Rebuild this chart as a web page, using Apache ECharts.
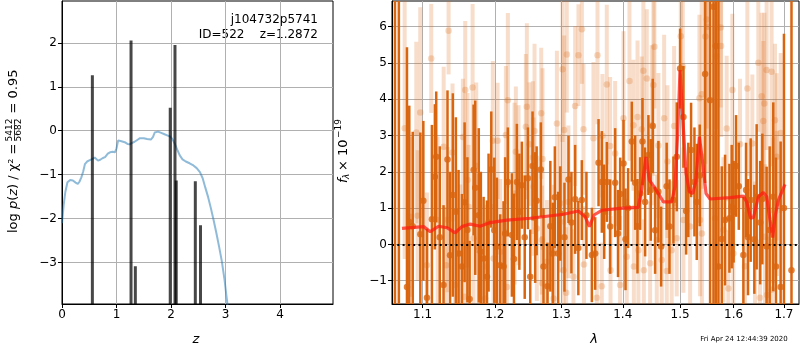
<!DOCTYPE html>
<html><head><meta charset="utf-8">
<script src="https://cdn.jsdelivr.net/npm/echarts@6/dist/echarts.min.js"></script>
<style>html,body{margin:0;padding:0;background:#fff}#c{width:800px;height:350px}</style>
</head><body><div id="c"></div>
<script>
// ---------- left panel: log p(z) ----------
const pzZ = [0.0, 0.03, 0.06, 0.1, 0.15, 0.2, 0.25, 0.29, 0.32, 0.355, 0.39, 0.42, 0.46, 0.51, 0.56, 0.6, 0.63, 0.66, 0.7, 0.75, 0.79, 0.84, 0.88, 0.93, 0.97, 1.0, 1.03, 1.09, 1.15, 1.2, 1.24, 1.28, 1.33, 1.38, 1.43, 1.5, 1.56, 1.63, 1.67, 1.7, 1.76, 1.82, 1.88, 1.94, 1.98, 2.02, 2.07, 2.12, 2.16, 2.21, 2.27, 2.34, 2.41, 2.47, 2.53, 2.58, 2.63, 2.68, 2.73, 2.78, 2.83, 2.88, 2.93, 2.98, 3.02, 3.06];
const pzLog = [-2.10, -1.70, -1.40, -1.17, -1.12, -1.13, -1.18, -1.21, -1.16, -1.06, -0.92, -0.76, -0.70, -0.67, -0.64, -0.61, -0.63, -0.68, -0.66, -0.62, -0.60, -0.52, -0.49, -0.48, -0.49, -0.40, -0.22, -0.24, -0.26, -0.30, -0.31, -0.28, -0.25, -0.21, -0.17, -0.17, -0.19, -0.20, -0.14, -0.04, -0.02, -0.05, -0.08, -0.11, -0.13, -0.18, -0.30, -0.45, -0.56, -0.65, -0.70, -0.74, -0.79, -0.85, -0.94, -1.08, -1.30, -1.51, -1.76, -2.03, -2.32, -2.63, -2.96, -3.38, -3.80, -4.20];
const spikeZ = [0.557, 1.266, 1.345, 1.985, 2.072, 2.095, 2.445, 2.54];
const spikePeak = [1.26, 2.05, -3.08, 0.52, 1.95, -1.13, -1.15, -2.15];
const zTicks = [0, 1, 2, 3, 4];
const logpTicks = [-3, -2, -1, 0, 1, 2];

// ---------- right panel: spectrum ----------
const lamTicks = [1.1, 1.2, 1.3, 1.4, 1.5, 1.6, 1.7];
const fluxTicks = [-1, 0, 1, 2, 3, 4, 5, 6];
const modelLam = [1.0730, 1.1014, 1.1102, 1.1214, 1.1327, 1.1441, 1.1533, 1.1650, 1.1791, 1.1934, 1.2176, 1.2523, 1.3035, 1.3272, 1.3379, 1.3449, 1.3524, 1.3649, 1.3952, 1.4263, 1.4321, 1.4397, 1.4455, 1.4537, 1.4613, 1.4701, 1.4849, 1.4909, 1.4957, 1.5000, 1.5048, 1.5109, 1.5170, 1.5231, 1.5286, 1.5354, 1.5409, 1.5477, 1.5552, 1.5931, 1.6189, 1.6254, 1.6332, 1.6385, 1.6484, 1.6583, 1.6650, 1.6717, 1.6771, 1.6818, 1.6886, 1.7022];
const modelFlux = [0.44, 0.49, 0.35, 0.50, 0.46, 0.32, 0.49, 0.56, 0.50, 0.60, 0.67, 0.72, 0.83, 0.92, 0.76, 0.49, 0.81, 0.94, 0.99, 1.02, 1.50, 2.41, 1.77, 1.59, 1.40, 1.17, 1.17, 1.59, 3.06, 4.80, 3.51, 1.95, 1.45, 1.40, 1.72, 2.96, 2.32, 1.40, 1.25, 1.29, 1.33, 1.17, 0.72, 0.74, 1.31, 1.43, 1.31, 0.67, 0.19, 0.76, 1.22, 1.65];
// [lambda, flux, error]
const darkPoints = [
 [1.0640, 7.5, 12], [1.0690, -2.5, 12],
 [1.0795, -1.17, 6.6], [1.0825, 0.62, 3.2], [1.0870, 0.50, 2.6], [1.0970, 0.28, 2.8], [1.1010, 1.20, 2.2],
 [1.1058, -1.47, 1.9], [1.1124, 0.69, 2.6], [1.1164, 1.86, 2.0], [1.1182, 2.41, 1.8], [1.1230, 0.20, 2.5],
 [1.1281, -1.12, 2.2], [1.1335, 2.34, 1.9], [1.1370, -0.30, 2.3], [1.1408, 1.36, 2.8], [1.1450, 0.90, 2.6],
 [1.1487, -0.25, 2.3], [1.1534, -0.61, 2.0], [1.1571, 1.16, 2.2], [1.1610, 0.40, 2.0], [1.1641, -1.50, 1.6],
 [1.1697, 2.05, 1.8], [1.1720, 1.56, 2.4], [1.1770, 0.80, 2.4], [1.1800, -0.20, 2.2], [1.1839, -0.39, 1.7],
 [1.1887, -0.89, 2.1], [1.1910, 0.60, 1.9], [1.1949, 2.06, 1.6], [1.1992, 0.39, 2.0], [1.2030, -0.06, 1.9],
 [1.2078, -0.57, 1.4], [1.2127, -0.61, 1.8], [1.2150, 0.30, 2.1], [1.2190, 1.72, 1.5], [1.2249, 0.26, 1.7],
 [1.2280, -0.40, 1.8], [1.2323, 1.72, 1.6], [1.2360, 0.90, 1.6], [1.2397, 1.63, 1.2], [1.2440, 0.20, 1.7],
 [1.2488, 1.82, 1.4], [1.2523, -0.89, 1.3], [1.2558, 2.16, 1.5], [1.2598, 0.74, 1.8], [1.2620, 1.20, 1.5],
 [1.2684, 2.06, 1.3], [1.2725, -0.61, 1.6], [1.2786, -1.15, 1.2], [1.2830, 0.50, 1.8], [1.2868, -0.25, 1.4],
 [1.2900, 1.30, 1.4], [1.2951, -0.25, 1.7], [1.2983, 0.85, 1.3], [1.3050, 0.20, 1.5], [1.3114, 1.79, 1.2],
 [1.3160, 0.60, 1.4], [1.3219, 1.24, 1.5], [1.3270, -0.10, 1.3], [1.3326, 1.22, 1.1], [1.3400, 0.80, 1.2],
 [1.3488, -0.29, 1.3], [1.3542, -0.25, 1.0], [1.3597, 2.25, 1.2], [1.3651, 1.72, 1.4], [1.3690, 0.90, 1.3],
 [1.3734, 1.72, 1.1], [1.3789, 0.49, 1.3], [1.3872, 1.70, 1.5], [1.3920, 0.30, 1.2], [1.3956, 1.39, 1.0],
 [1.4012, 2.23, 1.2], [1.4046, 0.14, 1.4], [1.4090, 1.00, 1.1], [1.4153, 2.83, 1.1], [1.4210, 1.70, 1.3],
 [1.4250, 0.50, 1.3], [1.4296, 1.40, 1.0], [1.4336, 2.83, 1.2], [1.4382, 1.17, 1.5], [1.4439, 2.46, 1.1],
 [1.4480, 1.50, 1.4], [1.4515, 3.26, 1.3], [1.4556, 0.39, 1.2], [1.4614, 1.45, 1.4], [1.4662, -0.06, 1.1],
 [1.4760, 1.60, 1.2], [1.4810, 0.49, 1.3], [1.4881, 1.22, 1.2], [1.4941, 2.41, 1.5], [1.5001, 4.84, 1.1],
 [1.5061, 3.51, 1.4], [1.5110, 0.92, 1.2], [1.5150, 1.50, 1.3], [1.5201, 2.60, 1.3], [1.5262, 1.72, 1.5],
 [1.5305, 1.17, 1.6], [1.5360, 1.90, 1.4], [1.5460, 4.69, 3.0],
 [1.5553, 3.97, 12], [1.5616, 6.54, 12], [1.5660, 5.46, 12], [1.5710, -0.61, 8], [1.5773, 0.15, 2.0],
 [1.5836, 0.67, 1.8], [1.5919, 0.72, 1.5], [1.5963, 1.04, 1.7], [1.6000, 0.90, 1.4], [1.6047, 2.16, 1.4],
 [1.6100, 1.60, 1.2], [1.6189, -0.29, 1.6], [1.6241, 1.50, 1.3], [1.6280, 0.20, 1.6], [1.6332, 1.22, 1.7],
 [1.6404, 0.14, 1.5], [1.6450, 1.31, 2.0], [1.6520, 0.60, 1.7], [1.6563, 1.25, 1.8], [1.6649, -0.06, 2.2],
 [1.6710, 0.40, 2.3], [1.6783, 1.31, 2.6], [1.6837, -0.61, 3.0], [1.6932, -1.17, 4.0], [1.7000, 1.0, 4.8],
 [1.7155, -0.71, 12]
];
const lightPoints = [
 [1.0765, 3.2, 3.6], [1.0839, 0.76, 2.2], [1.0917, 3.08, 2.5], [1.0934, 0.79, 1.8], [1.0969, 3.63, 2.9],
 [1.1057, -0.57, 2.0], [1.1115, 5.12, 1.5], [1.1201, 0.67, 2.3], [1.1283, 2.69, 2.2], [1.1318, -0.57, 1.6],
 [1.1336, 0.68, 2.0], [1.1350, 5.88, 1.2], [1.1404, 2.53, 1.9], [1.1440, -1.12, 1.4], [1.1510, -0.25, 1.9],
 [1.1547, 2.96, 1.6], [1.1566, -1.44, 1.5], [1.1580, 4.25, 1.9], [1.1612, 1.77, 2.4], [1.1626, 1.04, 1.7],
 [1.1683, 4.32, 2.3], [1.1697, 0.17, 1.8], [1.1734, 2.16, 2.3], [1.1767, -0.16, 2.1], [1.1862, -1.49, 1.2],
 [1.1876, -0.61, 1.7], [1.1971, 2.85, 2.2], [1.1981, -0.39, 1.5], [1.2040, 2.85, 1.6], [1.2078, -0.20, 2.0],
 [1.2161, 3.01, 1.9], [1.2176, -1.17, 1.6], [1.2190, 3.97, 2.4], [1.2289, 1.40, 2.5], [1.2308, 2.55, 1.8],
 [1.2348, 1.63, 2.2], [1.2457, 3.24, 2.0], [1.2472, 3.79, 2.3], [1.2512, 2.76, 1.7], [1.2563, 2.39, 2.1],
 [1.2573, 1.59, 1.9], [1.2588, 3.12, 2.4], [1.2623, 0.44, 2.0], [1.2690, 3.61, 1.8], [1.2700, 0.12, 1.5],
 [1.2705, -1.07, 1.3], [1.2710, 2.35, 2.5], [1.2777, -0.48, 1.7], [1.2879, -1.49, 1.6], [1.2885, -0.16, 1.8],
 [1.2932, 3.33, 2.0], [1.2983, 1.13, 1.9], [1.3020, 4.82, 2.0], [1.3035, -0.71, 1.4], [1.3045, 3.15, 2.6],
 [1.3077, -1.33, 1.8], [1.3087, 5.23, 1.6], [1.3113, 1.17, 2.1], [1.3193, -0.89, 1.3], [1.3219, 3.81, 2.2],
 [1.3272, 5.21, 1.4], [1.3327, 5.92, 1.5], [1.3353, 3.17, 1.8], [1.3360, -0.55, 1.6], [1.3514, 2.92, 2.1],
 [1.3569, -1.47, 1.5], [1.3580, 5.21, 1.9], [1.3650, -1.15, 1.2], [1.3661, 2.99, 1.7], [1.3733, 4.40, 2.2],
 [1.3788, 2.71, 1.9], [1.3795, -0.71, 1.5], [1.3872, 2.50, 2.0], [1.3955, -1.12, 1.9], [1.4012, 3.47, 2.4],
 [1.4067, -0.34, 1.6], [1.4113, 4.50, 2.2], [1.4181, 3.28, 1.8], [1.4188, -0.61, 1.7], [1.4251, 3.51, 2.1],
 [1.4266, -0.16, 1.8], [1.4324, 3.17, 2.0], [1.4352, 4.78, 2.4], [1.4360, -0.71, 1.4], [1.4411, 4.57, 1.9],
 [1.4469, -0.52, 1.7], [1.4497, 3.28, 2.2], [1.4526, 4.39, 2.5], [1.4544, 5.44, 1.7], [1.4585, 0.12, 1.8],
 [1.4614, 2.72, 2.0], [1.4673, -0.43, 1.6], [1.4715, 3.47, 2.3], [1.4762, -0.73, 1.7], [1.4774, 2.28, 2.1],
 [1.4850, -0.16, 1.9], [1.4893, 3.26, 2.2], [1.4940, 0.17, 1.6], [1.5013, 5.73, 1.7], [1.5049, 4.89, 1.9],
 [1.5061, 0.67, 2.0], [1.5183, 0.49, 2.2], [1.5354, 4.02, 2.3], [1.5366, 0.67, 2.1], [1.5397, 4.13, 2.6],
 [1.5400, 0.30, 2.2], [1.5466, 5.72, 3.5], [1.5490, 6.19, 3.0], [1.5509, 5.99, 4.0], [1.5646, 0.72, 2.4],
 [1.5665, 5.18, 2.0], [1.5754, 5.97, 2.2], [1.5760, 5.46, 2.5], [1.5804, 0.40, 2.0], [1.5867, 3.19, 2.0],
 [1.5899, -1.21, 1.6], [1.5976, 4.25, 2.1], [1.5995, -0.25, 1.8], [1.6124, 2.76, 1.8], [1.6221, -0.60, 1.5],
 [1.6267, 4.29, 2.4], [1.6365, 2.78, 1.9], [1.6417, 0.03, 1.7], [1.6483, 5.00, 1.9], [1.6516, -1.47, 1.6],
 [1.6550, 4.08, 2.3], [1.6583, 3.40, 2.2], [1.6603, 3.88, 2.5], [1.6616, 0.21, 2.0], [1.6649, 4.80, 2.2],
 [1.6655, -1.39, 1.6], [1.6749, 4.75, 2.6], [1.6755, -1.25, 1.4], [1.6784, 0.94, 2.0], [1.6817, 3.42, 2.1],
 [1.6850, 2.41, 2.3], [1.6855, 1.13, 2.0], [1.6933, 3.07, 2.2]
];

const FONT = 'DejaVu Sans';
const ORANGE = '#d9650f';
const minusFmt = v => String(v).replace('-', '\u2212');

function axisStyle(ticks, fmt) {
  return {
    axisLine: {show: true, onZero: false, lineStyle: {color: '#000', width: 1}},
    axisTick: {show: true, inside: false, length: 4, customValues: ticks, lineStyle: {color: '#000', width: 1}},
    axisLabel: {customValues: ticks, color: '#000', fontSize: 12, fontFamily: FONT, margin: 5, formatter: fmt},
    splitLine: {show: true, lineStyle: {color: '#b0b0b0', width: 1}}
  };
}

function errSeries(points, color, width, z) {
  return {
    type: 'custom', xAxisIndex: 1, yAxisIndex: 1, clip: true, silent: true, z: z,
    data: points, encode: {x: 0, y: 1},
    renderItem: (params, api) => {
      const x = api.value(0), y = api.value(1), e = api.value(2);
      const a = api.coord([x, y - e]), b = api.coord([x, y + e]);
      return {type: 'line', shape: {x1: a[0], y1: a[1], x2: b[0], y2: b[1]},
              style: {stroke: color, lineWidth: width}};
    }
  };
}

const chart = echarts.init(document.getElementById('c'), null, {renderer: 'canvas'});
chart.setOption({
  animation: false,
  textStyle: {fontFamily: FONT},
  grid: [
    {left: 62, top: 1, width: 271, height: 303, show: true, borderColor: '#000', borderWidth: 1, backgroundColor: 'transparent'},
    {left: 392, top: 1, width: 407, height: 303, show: true, borderColor: '#000', borderWidth: 1, backgroundColor: 'transparent'}
  ],
  xAxis: [
    Object.assign({type: 'value', gridIndex: 0, min: 0, max: 4.97}, axisStyle(zTicks, minusFmt)),
    Object.assign({type: 'log', logBase: 10, gridIndex: 1, min: 1.0602, max: 1.7311}, axisStyle(lamTicks, v => Number(v).toFixed(1)))
  ],
  yAxis: [
    Object.assign({type: 'value', gridIndex: 0, min: -3.94, max: 2.95}, axisStyle(logpTicks, minusFmt)),
    Object.assign({type: 'value', gridIndex: 1, min: -1.64, max: 6.70}, axisStyle(fluxTicks, minusFmt))
  ],
  series: [
    {
      type: 'line', xAxisIndex: 0, yAxisIndex: 0, showSymbol: false, clip: true, silent: true, z: 2,
      data: pzZ.map((z, i) => [z, pzLog[i]]),
      lineStyle: {color: 'rgba(31,119,180,0.5)', width: 2}
    },
    {
      type: 'custom', xAxisIndex: 0, yAxisIndex: 0, clip: true, silent: true, z: 3,
      data: spikeZ.map((z, i) => [z, spikePeak[i]]), encode: {x: 0, y: 1},
      renderItem: (params, api) => {
        const a = api.coord([api.value(0), api.value(1)]);
        const b = api.coord([api.value(0), -10]);
        return {type: 'line', shape: {x1: a[0], y1: a[1], x2: b[0], y2: b[1]},
                style: {stroke: 'rgba(0,0,0,0.72)', lineWidth: 3}};
      }
    },
    errSeries(lightPoints, 'rgba(217,101,15,0.22)', 4, 2),
    {
      type: 'scatter', xAxisIndex: 1, yAxisIndex: 1, silent: true, z: 3, symbolSize: 6.5,
      data: lightPoints.map(p => [p[0], p[1]]),
      itemStyle: {color: 'rgba(217,101,15,0.3)'}
    },
    errSeries(darkPoints, ORANGE, 2.5, 4),
    {
      type: 'scatter', xAxisIndex: 1, yAxisIndex: 1, silent: true, z: 5, symbolSize: 6.5,
      data: darkPoints.map(p => [p[0], p[1]]),
      itemStyle: {color: ORANGE}
    },
    {
      type: 'line', xAxisIndex: 1, yAxisIndex: 1, showSymbol: false, clip: true, silent: true, z: 6,
      data: modelLam.map((l, i) => [l, modelFlux[i]]),
      lineStyle: {color: 'rgba(255,25,15,0.72)', width: 3.2},
      markLine: {
        silent: true, symbol: ['none', 'none'], label: {show: false},
        lineStyle: {color: '#000', width: 2, type: [2, 3.3]},
        data: [{yAxis: 0}]
      }
    }
  ],
  graphic: [
    {type: 'text', x: 318, y: 19.5, style: {text: 'j104732p5741', font: '12px "DejaVu Sans"', fill: '#000', align: 'right', verticalAlign: 'middle'}},
    {type: 'text', x: 318, y: 34.5, style: {text: 'ID=522    z=1.2872', font: '12px "DejaVu Sans"', fill: '#000', align: 'right', verticalAlign: 'middle'}},
    {type: 'text', x: 196, y: 340, style: {text: 'z', font: 'italic 13px "DejaVu Sans"', fill: '#000', align: 'center', verticalAlign: 'middle'}},
    {type: 'text', x: 594, y: 340, style: {text: 'λ', font: 'italic 13px "DejaVu Sans"', fill: '#000', align: 'center', verticalAlign: 'middle'}},
    {type: 'text', x: 787.7, y: 339.5, style: {text: 'Fri Apr 24 12:44:39 2020', font: '7px "DejaVu Sans"', fill: '#000', align: 'right', verticalAlign: 'middle'}},
    {type: 'group', x: 14, y: 157.5, rotation: Math.PI / 2, children: [
      {type: 'text', x: 14, y: 0, style: {
        text: '{n|log }{i|p}{n|(}{i|z}{n|) / χ² =}', align: 'right', verticalAlign: 'middle',
        rich: {n: {fontSize: 13, fontFamily: FONT, fill: '#000'}, i: {fontSize: 13, fontFamily: FONT, fontStyle: 'italic', fill: '#000'}}
      }},
      {type: 'text', x: 27.5, y: -4, style: {text: '5412', font: '9px "DejaVu Sans"', fill: '#000', align: 'center', verticalAlign: 'middle'}},
      {type: 'line', shape: {x1: 17, y1: 0.5, x2: 38, y2: 0.5}, style: {stroke: '#000', lineWidth: 0.7}},
      {type: 'text', x: 27.5, y: 5, style: {text: '5682', font: '9px "DejaVu Sans"', fill: '#000', align: 'center', verticalAlign: 'middle'}},
      {type: 'text', x: 44, y: 0, style: {text: '= 0.95', font: '13px "DejaVu Sans"', fill: '#000', align: 'left', verticalAlign: 'middle'}}
    ]},
    {type: 'group', x: 344, y: 152, rotation: Math.PI / 2, children: [
      {type: 'text', x: -31, y: 0, style: {text: 'f', font: 'italic 13px "DejaVu Sans"', fill: '#000', align: 'left', verticalAlign: 'middle'}},
      {type: 'text', x: -27, y: 3, style: {text: 'λ', font: 'italic 9px "DejaVu Sans"', fill: '#000', align: 'left', verticalAlign: 'middle'}},
      {type: 'text', x: -19, y: 0, style: {text: '× 10', font: '13px "DejaVu Sans"', fill: '#000', align: 'left', verticalAlign: 'middle'}},
      {type: 'text', x: 14, y: -5.5, style: {text: '\u221219', font: '9px "DejaVu Sans"', fill: '#000', align: 'left', verticalAlign: 'middle'}}
    ]}
  ]
});
</script>
</body></html>
